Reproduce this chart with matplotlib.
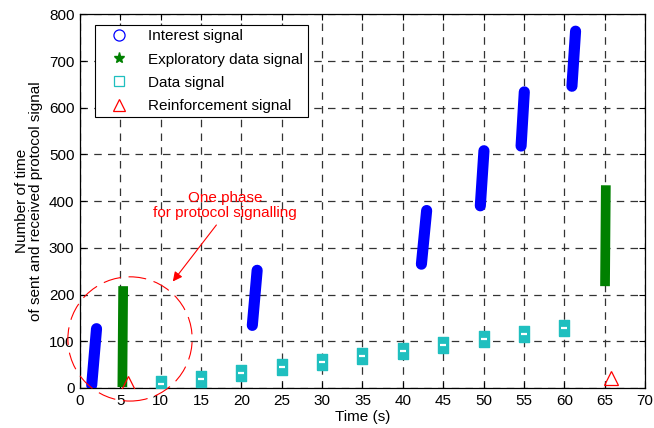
import matplotlib
matplotlib.use("Agg")
import matplotlib.pyplot as plt
from matplotlib.lines import Line2D
from matplotlib.patches import Ellipse

plt.rcParams["font.family"] = ["Liberation Sans", "DejaVu Sans"]

# interest signal bursts: (start, end) of each dense run of points
interest_x0 = [1.45, 21.35, 42.3, 49.6, 54.65, 60.95]
interest_y0 = [6, 134, 265, 390, 518, 646]
interest_x1 = [2.05, 21.95, 42.95, 50.05, 55.05, 61.4]
interest_y1 = [127, 252, 380, 508, 634, 764]

# exploratory data bursts
explore_x0 = [5.25, 65.05]
explore_y0 = [2, 218]
explore_x1 = [5.35, 65.15]
explore_y1 = [218, 434]

# data signal
data_x = [10, 15, 20, 25, 30, 35, 40, 45, 50, 55, 60]
data_y = [8, 20, 33, 44, 56, 68, 80, 92, 104, 116, 129]

# reinforcement signal
reinf_x = [6.0, 65.8]
reinf_y = [10, 22]

x_ticks = list(range(0, 71, 5))
y_ticks = list(range(0, 801, 100))

BLUE = "#0000ff"
GREEN = "#008000"
CYAN = "#1fbfbf"
RED = "#ff0000"
FS = 11

fig = plt.figure(figsize=(6.54, 4.28), dpi=100)
ax = fig.add_axes([0.1223, 0.0935, 0.8639, 0.873])

for xa, ya, xb, yb in zip(interest_x0, interest_y0, interest_x1, interest_y1):
    ax.plot([xa, xb], [ya, yb], color=BLUE, lw=8.0, solid_capstyle="round", zorder=4)

for xa, ya, xb, yb in zip(explore_x0, explore_y0, explore_x1, explore_y1):
    ax.plot([xa, xb], [ya, yb], color=GREEN, lw=7.0, solid_capstyle="butt", zorder=4)

box = [(-1, -1.45), (1, -1.45), (1, 1.45), (-1, 1.45), (-1, -1.45)]
ax.plot(data_x, data_y, ls="none", marker=box, ms=11, mfc=CYAN, mec=CYAN, zorder=4)
ax.plot(data_x, data_y, ls="none", marker="_", ms=4, mew=1.6, color="white", zorder=5)

ax.plot(reinf_x, reinf_y, ls="none", marker="^", ms=10, mfc="none", mec=RED, mew=0.9, zorder=4)

ax.set_xlim(0, 70)
ax.set_ylim(0, 800)
ax.set_xticks(x_ticks)
ax.set_yticks(y_ticks)
ax.tick_params(direction="in", top=True, right=True, length=4, width=0.8,
               labelsize=FS, pad=4)
ax.grid(True, color="#333333", ls=(0, (6, 5)), lw=0.9)
for sp in ax.spines.values():
    sp.set_linewidth(0.9)

ax.set_xlabel("Time (s)", fontsize=FS, labelpad=2)
ax.set_ylabel("Number of time\nof sent and received protocol signal", fontsize=FS,
              labelpad=4, linespacing=1.0)

# annotation: circled phase + arrow
ax.add_patch(Ellipse((6.2, 105), 15.4, 266, fill=False, ec=RED, lw=0.8,
                     ls=(0, (16, 7)), clip_on=False, zorder=6))
ax.annotate("", xy=(11.5, 228), xytext=(16.9, 349),
            arrowprops=dict(arrowstyle="-|>", color=RED, lw=0.8,
                            mutation_scale=14, shrinkA=0, shrinkB=0))
ax.text(18.0, 391, "One phase\nfor protocol signalling", color=RED, fontsize=FS,
        ha="center", va="center", linespacing=1.15)

handles = [
    Line2D([], [], ls="none", marker="o", ms=8, mfc="none", mec=BLUE, mew=0.9),
    Line2D([], [], ls="none", marker="*", ms=8, color=GREEN),
    Line2D([], [], ls="none", marker="s", ms=7, mfc="none", mec=CYAN, mew=0.9),
    Line2D([], [], ls="none", marker="^", ms=8, mfc="none", mec=RED, mew=0.9),
]
labels = ["Interest signal", "Exploratory data signal", "Data signal",
          "Reinforcement signal"]
leg = ax.legend(handles, labels, loc="upper left", bbox_to_anchor=(0.0265, 0.972),
                borderaxespad=0, fontsize=FS, fancybox=False, framealpha=1,
                edgecolor="black", handlelength=2.6, handletextpad=0.6,
                labelspacing=0.6, borderpad=0.3)
leg.get_frame().set_linewidth(0.8)
leg.set_zorder(10)

fig.savefig("out.png", dpi=100)
